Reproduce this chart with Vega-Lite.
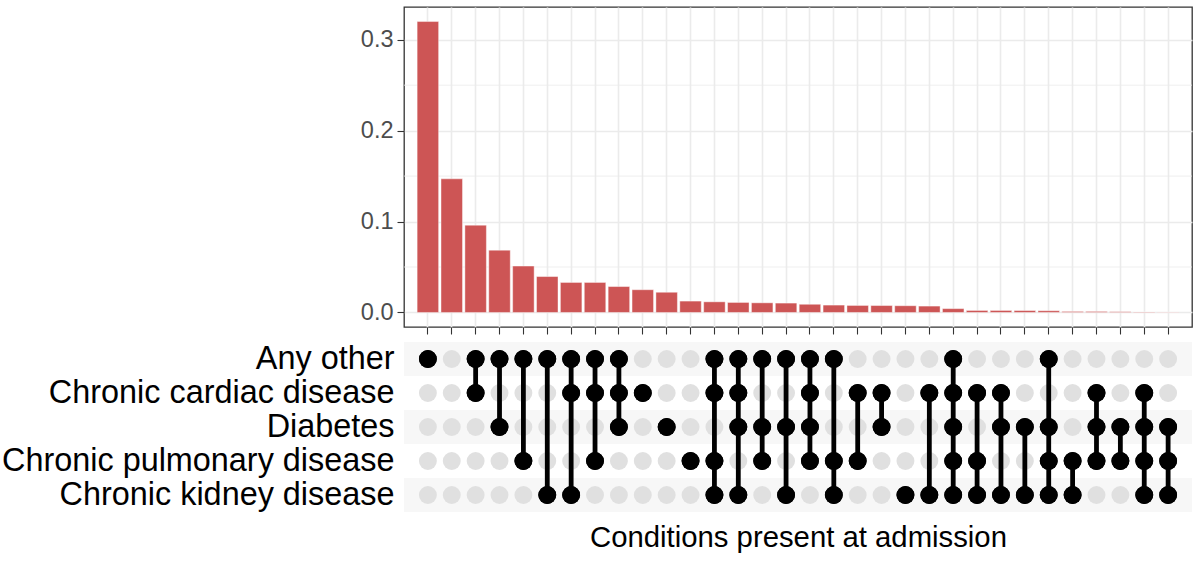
{
  "$schema": "https://vega.github.io/schema/vega-lite/v6.json",
  "background": "white",
  "padding": {"left": 1, "top": 6, "right": 4, "bottom": 5},
  "bounds": "flush",
  "spacing": 15,
  "config": {"font": "Liberation Sans", "view": {"stroke": null}},
  "datasets": {
    "combos": [
      {"combo": "C01", "prop": 0.320, "Any other": 1, "Chronic cardiac disease": 0, "Diabetes": 0, "Chronic pulmonary disease": 0, "Chronic kidney disease": 0},
      {"combo": "C02", "prop": 0.147, "Any other": 0, "Chronic cardiac disease": 0, "Diabetes": 0, "Chronic pulmonary disease": 0, "Chronic kidney disease": 0},
      {"combo": "C03", "prop": 0.096, "Any other": 1, "Chronic cardiac disease": 1, "Diabetes": 0, "Chronic pulmonary disease": 0, "Chronic kidney disease": 0},
      {"combo": "C04", "prop": 0.0685, "Any other": 1, "Chronic cardiac disease": 0, "Diabetes": 1, "Chronic pulmonary disease": 0, "Chronic kidney disease": 0},
      {"combo": "C05", "prop": 0.051, "Any other": 1, "Chronic cardiac disease": 0, "Diabetes": 0, "Chronic pulmonary disease": 1, "Chronic kidney disease": 0},
      {"combo": "C06", "prop": 0.0395, "Any other": 1, "Chronic cardiac disease": 0, "Diabetes": 0, "Chronic pulmonary disease": 0, "Chronic kidney disease": 1},
      {"combo": "C07", "prop": 0.033, "Any other": 1, "Chronic cardiac disease": 1, "Diabetes": 0, "Chronic pulmonary disease": 0, "Chronic kidney disease": 1},
      {"combo": "C08", "prop": 0.033, "Any other": 1, "Chronic cardiac disease": 1, "Diabetes": 0, "Chronic pulmonary disease": 1, "Chronic kidney disease": 0},
      {"combo": "C09", "prop": 0.0285, "Any other": 1, "Chronic cardiac disease": 1, "Diabetes": 1, "Chronic pulmonary disease": 0, "Chronic kidney disease": 0},
      {"combo": "C10", "prop": 0.025, "Any other": 0, "Chronic cardiac disease": 1, "Diabetes": 0, "Chronic pulmonary disease": 0, "Chronic kidney disease": 0},
      {"combo": "C11", "prop": 0.0222, "Any other": 0, "Chronic cardiac disease": 0, "Diabetes": 1, "Chronic pulmonary disease": 0, "Chronic kidney disease": 0},
      {"combo": "C12", "prop": 0.0125, "Any other": 0, "Chronic cardiac disease": 0, "Diabetes": 0, "Chronic pulmonary disease": 1, "Chronic kidney disease": 0},
      {"combo": "C13", "prop": 0.0117, "Any other": 1, "Chronic cardiac disease": 1, "Diabetes": 0, "Chronic pulmonary disease": 1, "Chronic kidney disease": 1},
      {"combo": "C14", "prop": 0.011, "Any other": 1, "Chronic cardiac disease": 1, "Diabetes": 1, "Chronic pulmonary disease": 0, "Chronic kidney disease": 1},
      {"combo": "C15", "prop": 0.0106, "Any other": 1, "Chronic cardiac disease": 0, "Diabetes": 1, "Chronic pulmonary disease": 1, "Chronic kidney disease": 0},
      {"combo": "C16", "prop": 0.0103, "Any other": 1, "Chronic cardiac disease": 0, "Diabetes": 1, "Chronic pulmonary disease": 0, "Chronic kidney disease": 1},
      {"combo": "C17", "prop": 0.009, "Any other": 1, "Chronic cardiac disease": 1, "Diabetes": 1, "Chronic pulmonary disease": 1, "Chronic kidney disease": 0},
      {"combo": "C18", "prop": 0.0081, "Any other": 1, "Chronic cardiac disease": 0, "Diabetes": 0, "Chronic pulmonary disease": 1, "Chronic kidney disease": 1},
      {"combo": "C19", "prop": 0.0077, "Any other": 0, "Chronic cardiac disease": 1, "Diabetes": 0, "Chronic pulmonary disease": 1, "Chronic kidney disease": 0},
      {"combo": "C20", "prop": 0.0076, "Any other": 0, "Chronic cardiac disease": 1, "Diabetes": 1, "Chronic pulmonary disease": 0, "Chronic kidney disease": 0},
      {"combo": "C21", "prop": 0.0074, "Any other": 0, "Chronic cardiac disease": 0, "Diabetes": 0, "Chronic pulmonary disease": 0, "Chronic kidney disease": 1},
      {"combo": "C22", "prop": 0.007, "Any other": 0, "Chronic cardiac disease": 1, "Diabetes": 0, "Chronic pulmonary disease": 0, "Chronic kidney disease": 1},
      {"combo": "C23", "prop": 0.0042, "Any other": 1, "Chronic cardiac disease": 1, "Diabetes": 1, "Chronic pulmonary disease": 1, "Chronic kidney disease": 1},
      {"combo": "C24", "prop": 0.0022, "Any other": 0, "Chronic cardiac disease": 1, "Diabetes": 0, "Chronic pulmonary disease": 1, "Chronic kidney disease": 1},
      {"combo": "C25", "prop": 0.0022, "Any other": 0, "Chronic cardiac disease": 1, "Diabetes": 1, "Chronic pulmonary disease": 0, "Chronic kidney disease": 1},
      {"combo": "C26", "prop": 0.0021, "Any other": 0, "Chronic cardiac disease": 0, "Diabetes": 1, "Chronic pulmonary disease": 0, "Chronic kidney disease": 1},
      {"combo": "C27", "prop": 0.0019, "Any other": 1, "Chronic cardiac disease": 0, "Diabetes": 1, "Chronic pulmonary disease": 1, "Chronic kidney disease": 1},
      {"combo": "C28", "prop": 0.0011, "Any other": 0, "Chronic cardiac disease": 0, "Diabetes": 0, "Chronic pulmonary disease": 1, "Chronic kidney disease": 1},
      {"combo": "C29", "prop": 0.0011, "Any other": 0, "Chronic cardiac disease": 1, "Diabetes": 1, "Chronic pulmonary disease": 1, "Chronic kidney disease": 0},
      {"combo": "C30", "prop": 0.0008, "Any other": 0, "Chronic cardiac disease": 0, "Diabetes": 1, "Chronic pulmonary disease": 1, "Chronic kidney disease": 0},
      {"combo": "C31", "prop": 0.0005, "Any other": 0, "Chronic cardiac disease": 1, "Diabetes": 1, "Chronic pulmonary disease": 1, "Chronic kidney disease": 1},
      {"combo": "C32", "prop": 0.0003, "Any other": 0, "Chronic cardiac disease": 0, "Diabetes": 1, "Chronic pulmonary disease": 1, "Chronic kidney disease": 1}
    ]
  },
  "vconcat": [
    {
      "width": 788,
      "height": 320,
      "view": {"stroke": "#333333", "strokeWidth": 1.3},
      "layer": [
        {
          "data": {"values": [{"v": 0.05}, {"v": 0.15}, {"v": 0.25}]},
          "mark": {"type": "rule", "color": "#EBEBEB", "strokeWidth": 0.8},
          "encoding": {
            "y": {"field": "v", "type": "quantitative",
              "scale": {"domain": [-0.016, 0.336], "nice": false, "zero": false},
              "axis": {"title": null, "values": [0, 0.1, 0.2, 0.3], "format": ".1f", "labelFontSize": 23.5, "labelColor": "#4D4D4D", "tickSize": 7, "tickColor": "#333333", "tickWidth": 1.1, "labelPadding": 4, "domain": false, "grid": true, "gridColor": "#EBEBEB", "gridWidth": 1.6}}
          }
        },
        {
          "data": {"name": "combos"},
          "mark": {"type": "bar", "color": "#CD5555", "stroke": "white", "strokeWidth": 0.6, "strokeOpacity": 0.7},
          "encoding": {
            "x": {"field": "combo", "type": "nominal", "sort": "ascending",
              "scale": {"type": "band", "paddingInner": 0.1, "paddingOuter": 0.55},
              "axis": {"title": null, "labels": false, "ticks": true, "tickSize": 7, "tickColor": "#333333", "tickWidth": 1.1, "domain": false, "grid": true, "gridColor": "#EBEBEB", "gridWidth": 1.6, "bandPosition": 0.5}},
            "y": {"field": "prop", "type": "quantitative",
              "scale": {"domain": [-0.016, 0.336], "nice": false, "zero": false},
              "axis": {"title": null, "values": [0, 0.1, 0.2, 0.3], "format": ".1f", "labelFontSize": 23.5, "labelColor": "#4D4D4D", "tickSize": 7, "tickColor": "#333333", "tickWidth": 1.1, "labelPadding": 4, "domain": false, "grid": true, "gridColor": "#EBEBEB", "gridWidth": 1.6}}
          }
        }
      ]
    },
    {
      "width": 788,
      "height": 170,
      "layer": [
        {
          "data": {"values": [{"condition": "Any other"}, {"condition": "Diabetes"}, {"condition": "Chronic kidney disease"}]},
          "mark": {"type": "rect", "color": "#F7F7F7"},
          "encoding": {
            "y": {"field": "condition", "type": "nominal",
              "scale": {"type": "band", "domain": ["Any other", "Chronic cardiac disease", "Diabetes", "Chronic pulmonary disease", "Chronic kidney disease"], "paddingInner": 0, "paddingOuter": 0},
              "axis": {"title": null, "ticks": false, "domain": false, "labelFontSize": 32.4, "labelColor": "black", "labelPadding": 10, "labelLimit": 600}}
          }
        },
        {
          "data": {"name": "combos"},
          "transform": [{"fold": ["Any other", "Chronic cardiac disease", "Diabetes", "Chronic pulmonary disease", "Chronic kidney disease"], "as": ["condition", "has"]}],
          "mark": {"type": "circle", "size": 320, "opacity": 1},
          "encoding": {
            "x": {"field": "combo", "type": "nominal", "sort": "ascending",
              "scale": {"type": "band", "paddingInner": 0.1, "paddingOuter": 0.55},
              "axis": {"title": "Conditions present at admission", "labels": false, "ticks": false, "domain": false, "grid": false, "titleFontSize": 29.3, "titleFontWeight": "normal", "titleColor": "black", "titlePadding": 11}},
            "y": {"field": "condition", "type": "nominal",
              "scale": {"type": "band", "domain": ["Any other", "Chronic cardiac disease", "Diabetes", "Chronic pulmonary disease", "Chronic kidney disease"], "paddingInner": 0, "paddingOuter": 0},
              "axis": {"title": null, "ticks": false, "domain": false, "labelFontSize": 32.4, "labelColor": "black", "labelPadding": 10, "labelLimit": 600}},
            "color": {"condition": {"test": "datum.has == 1", "value": "black"}, "value": "#E0E0E0"}
          }
        },
        {
          "data": {"name": "combos"},
          "transform": [
            {"fold": ["Any other", "Chronic cardiac disease", "Diabetes", "Chronic pulmonary disease", "Chronic kidney disease"], "as": ["condition", "has"]},
            {"filter": "datum.has == 1"}
          ],
          "mark": {"type": "line", "color": "black", "strokeWidth": 4.8},
          "encoding": {
            "x": {"field": "combo", "type": "nominal", "sort": "ascending",
              "scale": {"type": "band", "paddingInner": 0.1, "paddingOuter": 0.55},
              "axis": {"title": "Conditions present at admission", "labels": false, "ticks": false, "domain": false, "grid": false, "titleFontSize": 29.3, "titleFontWeight": "normal", "titleColor": "black", "titlePadding": 11}},
            "y": {"field": "condition", "type": "nominal",
              "scale": {"type": "band", "domain": ["Any other", "Chronic cardiac disease", "Diabetes", "Chronic pulmonary disease", "Chronic kidney disease"], "paddingInner": 0, "paddingOuter": 0},
              "axis": {"title": null, "ticks": false, "domain": false, "labelFontSize": 32.4, "labelColor": "black", "labelPadding": 10, "labelLimit": 600}},
            "detail": {"field": "combo", "type": "nominal"}
          }
        },
        {
          "data": {"name": "combos"},
          "transform": [
            {"fold": ["Any other", "Chronic cardiac disease", "Diabetes", "Chronic pulmonary disease", "Chronic kidney disease"], "as": ["condition", "has"]},
            {"filter": "datum.has == 1"}
          ],
          "mark": {"type": "circle", "size": 320, "opacity": 1, "color": "black"},
          "encoding": {
            "x": {"field": "combo", "type": "nominal", "sort": "ascending",
              "scale": {"type": "band", "paddingInner": 0.1, "paddingOuter": 0.55},
              "axis": {"title": "Conditions present at admission", "labels": false, "ticks": false, "domain": false, "grid": false, "titleFontSize": 29.3, "titleFontWeight": "normal", "titleColor": "black", "titlePadding": 11}},
            "y": {"field": "condition", "type": "nominal",
              "scale": {"type": "band", "domain": ["Any other", "Chronic cardiac disease", "Diabetes", "Chronic pulmonary disease", "Chronic kidney disease"], "paddingInner": 0, "paddingOuter": 0},
              "axis": {"title": null, "ticks": false, "domain": false, "labelFontSize": 32.4, "labelColor": "black", "labelPadding": 10, "labelLimit": 600}}
          }
        }
      ]
    }
  ]
}
